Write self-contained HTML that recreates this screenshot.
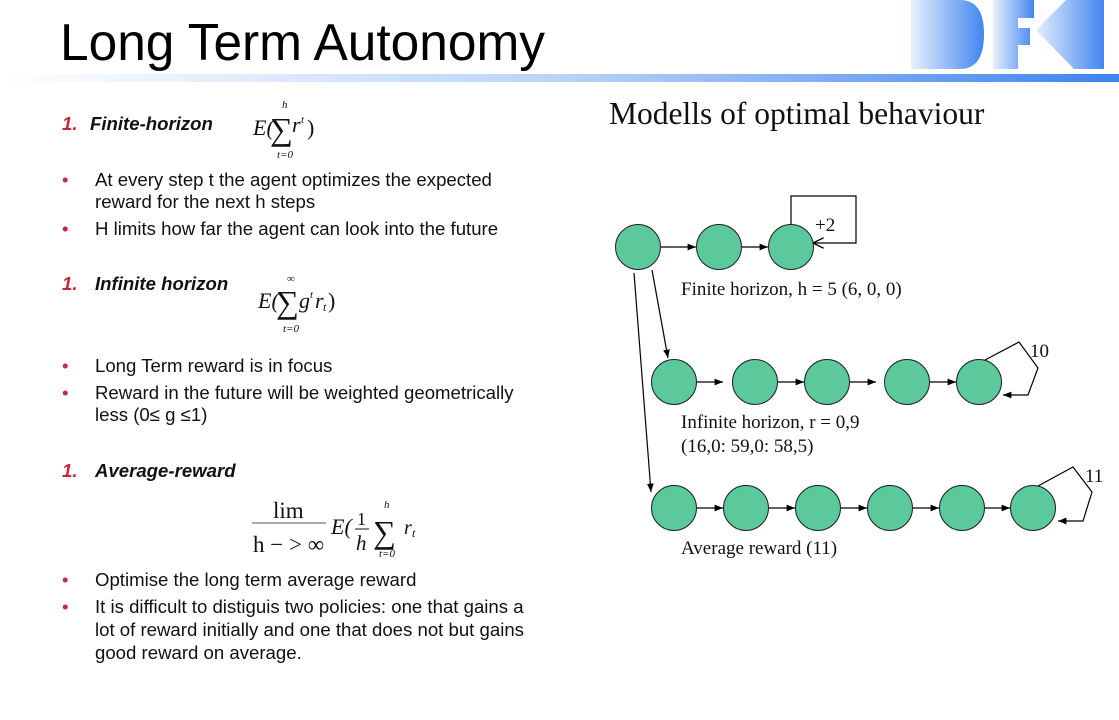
<!DOCTYPE html>
<html><head><meta charset="utf-8"><style>
html,body{margin:0;padding:0;background:#fff;}
svg{display:block;}
.s{font-family:"Liberation Sans",sans-serif;font-size:18.6px;fill:#111;}
.h{font-family:"Liberation Sans",sans-serif;font-size:18.6px;font-weight:bold;font-style:italic;fill:#111;}
.r{fill:#c8283c;}
.m{font-family:"Liberation Serif",serif;fill:#111;}
.d{font-family:"Liberation Serif",serif;font-size:19px;fill:#111;}
</style></head><body>
<svg width="1119" height="720" viewBox="0 0 1119 720" xmlns="http://www.w3.org/2000/svg">
<defs>
<linearGradient id="bar" x1="0" x2="1" y1="0" y2="0"><stop offset="0" stop-color="#fff"/><stop offset="0.5" stop-color="#b9d3f8"/><stop offset="1" stop-color="#3f83ef"/></linearGradient>
<linearGradient id="lg" x1="0" x2="1" y1="0" y2="0"><stop offset="0" stop-color="#e8f0fd"/><stop offset="1" stop-color="#4286f0"/></linearGradient>
<marker id="a" viewBox="0 0 10 10" refX="10" refY="5" markerWidth="7" markerHeight="7" orient="auto"><path d="M0,1 L10,5 L0,9 z" fill="#000"/></marker>
<marker id="o" viewBox="0 0 10 10" refX="10" refY="5" markerWidth="9" markerHeight="9" orient="auto"><path d="M0,0 L10,5 L0,10" fill="none" stroke="#000" stroke-width="1.2"/></marker>
</defs>
<text x="60" y="60" font-family="Liberation Sans,sans-serif" font-size="51.5" fill="#000" textLength="485" lengthAdjust="spacingAndGlyphs">Long Term Autonomy</text>
<rect x="0" y="74" width="1119" height="8" fill="url(#bar)"/>
<path d="M911,0 H960 Q984,0 984,34 Q984,69 960,69 H911 Z" fill="url(#lg)"/>
<path d="M993,0 H1034 V18 H1018 V28 H1030 V45 H1018 V69 H993 Z" fill="url(#lg)"/>
<path d="M1035,0 H1104 V69 H1074 L1036,30 L1066,0 Z" fill="url(#lg)"/>
<!-- left -->
<text x="62" y="130" class="h r">1.</text><text x="90" y="130" class="h">Finite-horizon</text>
<text x="253" y="135" class="m" font-size="22" font-style="italic">E(</text>
<text x="270" y="140" class="m" font-size="32">∑</text>
<text x="292" y="132" class="m" font-size="22" font-style="italic">r</text>
<text x="301" y="123" class="m" font-size="11" font-style="italic">t</text>
<text x="307" y="135" class="m" font-size="22">)</text>
<text x="282" y="108" class="m" font-size="11" font-style="italic">h</text>
<text x="277" y="158" class="m" font-size="11" font-style="italic">t=0</text>
<text x="62" y="186" class="s r">•</text><text x="95" y="186" class="s">At every step t the agent optimizes the expected</text>
<text x="95" y="208" class="s">reward for the next h steps</text>
<text x="62" y="235" class="s r">•</text><text x="95" y="235" class="s">H limits how far the agent can look into the future</text>

<text x="62" y="290" class="h r">1.</text><text x="95" y="290" class="h">Infinite horizon</text>
<text x="258" y="308" class="m" font-size="22" font-style="italic">E(</text>
<text x="276" y="313" class="m" font-size="32">∑</text>
<text x="299" y="308" class="m" font-size="22" font-style="italic">g</text>
<text x="310" y="298" class="m" font-size="11" font-style="italic">t</text>
<text x="315" y="308" class="m" font-size="22" font-style="italic">r</text>
<text x="323" y="311" class="m" font-size="12" font-style="italic">t</text>
<text x="328" y="308" class="m" font-size="22">)</text>
<text x="287" y="282" class="m" font-size="11">∞</text>
<text x="283" y="332" class="m" font-size="11" font-style="italic">t=0</text>
<text x="62" y="372" class="s r">•</text><text x="95" y="372" class="s">Long Term reward is in focus</text>
<text x="62" y="399" class="s r">•</text><text x="95" y="399" class="s">Reward in the future will be weighted geometrically</text>
<text x="95" y="421" class="s">less (0≤ g ≤1)</text>

<text x="62" y="477" class="h r">1.</text><text x="95" y="477" class="h">Average-reward</text>
<text x="273" y="518" class="m" font-size="23">lim</text>
<line x1="252" y1="523" x2="326" y2="523" stroke="#555" stroke-width="1"/>
<text x="253" y="552" class="m" font-size="23">h − &gt; ∞</text>
<text x="331" y="534" class="m" font-size="22" font-style="italic">E(</text>
<text x="357" y="525" class="m" font-size="18">1</text>
<line x1="355" y1="529" x2="369" y2="529" stroke="#111" stroke-width="1"/>
<text x="356" y="550" class="m" font-size="21" font-style="italic">h</text>
<text x="373" y="543" class="m" font-size="32">∑</text>
<text x="384" y="508" class="m" font-size="11" font-style="italic">h</text>
<text x="379" y="557" class="m" font-size="11" font-style="italic">t=0</text>
<text x="404" y="534" class="m" font-size="20" font-style="italic">r</text>
<text x="412" y="537" class="m" font-size="12" font-style="italic">t</text>
<text x="62" y="586" class="s r">•</text><text x="95" y="586" class="s">Optimise the long term average reward</text>
<text x="62" y="613" class="s r">•</text><text x="95" y="613" class="s">It is difficult to distiguis two policies: one that gains a</text>
<text x="95" y="636" class="s">lot of reward initially and one that does not but gains</text>
<text x="95" y="659" class="s">good reward on average.</text>

<!-- right -->
<text x="609" y="124" font-family="Liberation Serif,serif" font-size="31.5" fill="#111">Modells of optimal behaviour</text>
<g fill="#5cc99c" stroke="#222" stroke-width="1">
<circle cx="638" cy="247" r="22.5"/><circle cx="719" cy="247" r="22.5"/><circle cx="791" cy="247" r="22.5"/>
<circle cx="674" cy="382" r="22.5"/><circle cx="755" cy="382" r="22.5"/><circle cx="827" cy="382" r="22.5"/><circle cx="907" cy="382" r="22.5"/><circle cx="979" cy="382" r="22.5"/>
<circle cx="674" cy="508" r="22.5"/><circle cx="746" cy="508" r="22.5"/><circle cx="818" cy="508" r="22.5"/><circle cx="890" cy="508" r="22.5"/><circle cx="962" cy="508" r="22.5"/><circle cx="1033" cy="508" r="22.5"/>
</g>
<g stroke="#000" stroke-width="1.2" fill="none">
<line x1="661" y1="247" x2="696" y2="247" marker-end="url(#a)"/>
<line x1="742" y1="247" x2="768" y2="247" marker-end="url(#a)"/>
<path d="M791,224 V196 H856 V243 H813" marker-end="url(#o)"/>
<line x1="697" y1="382" x2="723" y2="382" marker-end="url(#a)"/>
<line x1="778" y1="382" x2="804" y2="382" marker-end="url(#a)"/>
<line x1="850" y1="382" x2="876" y2="382" marker-end="url(#a)"/>
<line x1="930" y1="382" x2="956" y2="382" marker-end="url(#a)"/>
<path d="M985,360 L1019,342 L1038,368 L1028,395 H1003" marker-end="url(#a)"/>
<line x1="697" y1="508" x2="723" y2="508" marker-end="url(#a)"/>
<line x1="769" y1="508" x2="795" y2="508" marker-end="url(#a)"/>
<line x1="841" y1="508" x2="867" y2="508" marker-end="url(#a)"/>
<line x1="913" y1="508" x2="939" y2="508" marker-end="url(#a)"/>
<line x1="985" y1="508" x2="1010" y2="508" marker-end="url(#a)"/>
<path d="M1038,486 L1073,467 L1092,492 L1083,521 H1058" marker-end="url(#a)"/>
<line x1="652" y1="270" x2="668" y2="358" marker-end="url(#a)"/>
<line x1="634" y1="273" x2="651" y2="492" marker-end="url(#a)"/>
</g>
<text x="815" y="231" class="d">+2</text>
<text x="681" y="295" class="d">Finite horizon, h = 5 (6, 0, 0)</text>
<text x="1030" y="357" class="d">10</text>
<text x="681" y="428" class="d">Infinite horizon, r = 0,9</text>
<text x="681" y="452" class="d">(16,0: 59,0: 58,5)</text>
<text x="1085" y="482" class="d">11</text>
<text x="681" y="554" class="d">Average reward (11)</text>
</svg>
</body></html>
